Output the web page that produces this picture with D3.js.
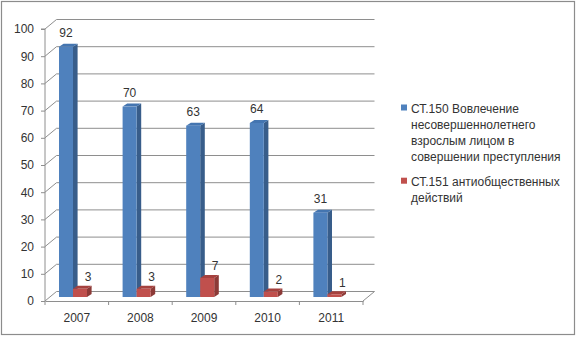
<!DOCTYPE html>
<html><head><meta charset="utf-8">
<script src="https://cdn.jsdelivr.net/npm/d3@7/dist/d3.min.js"></script>
<style>
html,body{margin:0;padding:0;background:#fff;}
svg{display:block;font-family:"Liberation Sans",Arial,sans-serif;}
</style></head>
<body>
<svg id="c" width="577" height="337"></svg>
<script>
const categories = ["2007","2008","2009","2010","2011"];
const seriesNames = ["СТ.150 Вовлечение несовершеннолетнего взрослым лицом в совершении преступления",
                     "СТ.151 антиобщественных действий"];
const series150 = [92, 70, 63, 64, 31];
const series151 = [3, 3, 7, 2, 1];
const yTicks = [0,10,20,30,40,50,60,70,80,90,100];
const legendLines = [
  ["СТ.150 Вовлечение","несовершеннолетнего","взрослым лицом в","совершении преступления"],
  ["СТ.151 антиобщественных","действий"]
];

const colors = [
  {front:"#4F81BD", side:"#385D8A", top:"#4475B0"},
  {front:"#C0504D", side:"#8C3A37", top:"#A5413E"}
];
const FS = "12px", TXT = "#333";

const svg = d3.select("#c");
svg.append("rect").attr("x",1.5).attr("y",1.5).attr("width",573).attr("height",333)
  .attr("fill","#fff").attr("stroke","#8c8c8c").attr("stroke-width",1.2);

const DX = 11.5, DY = 9.5;       // wall depth offset
const x0 = d3.scaleBand().domain(categories).range([45, 363]);
const x1 = d3.scaleBand().domain([0,1]).range([14, 42]);
const y = d3.scaleLinear().domain([0,100]).range([301, 29]);
const barBase = 4;               // bars sit at mid depth
const bdx = 4.6, bdy = 3;        // bar depth

const grid = "#8e8e8e";
yTicks.forEach(t => {
  svg.append("line").attr("x1",45+DX).attr("x2",363+DX)
    .attr("y1",y(t)-DY).attr("y2",y(t)-DY).attr("stroke",grid).attr("stroke-width",1);
  svg.append("line").attr("x1",45).attr("x2",45+DX)
    .attr("y1",y(t)).attr("y2",y(t)-DY).attr("stroke",grid).attr("stroke-width",1);
});
svg.append("line").attr("x1",363).attr("y1",y(0)).attr("x2",363+DX).attr("y2",y(0)-DY)
  .attr("stroke",grid);

const yAxis = d3.axisLeft(y).tickValues(yTicks).tickSize(4).tickPadding(7);
const gy = svg.append("g").attr("transform","translate(45,0)").call(yAxis);
gy.select(".domain").attr("stroke",grid).attr("d",`M-4,${y(100)}H0V${y(0)}`);
gy.selectAll(".tick line").attr("stroke",grid);
gy.selectAll(".tick text").attr("font-size",FS).attr("fill",TXT)
  .attr("font-family","'Liberation Sans',Arial,sans-serif");

const xAxis = d3.axisBottom(x0).tickSize(0).tickPadding(12);
const gx = svg.append("g").attr("transform",`translate(0,${y(0)})`).call(xAxis);
gx.select(".domain").attr("stroke",grid);
gx.selectAll(".tick text").attr("font-size",FS).attr("fill",TXT)
  .attr("font-family","'Liberation Sans',Arial,sans-serif");
const bounds = categories.map(c => x0(c)).concat([x0.range()[1]]);
bounds.forEach(b => {
  svg.append("line").attr("x1",b).attr("x2",b).attr("y1",y(0)).attr("y2",y(0)+4)
    .attr("stroke",grid);
});

const data = [series150, series151];
data.forEach((vals, si) => {
  const c = colors[si];
  vals.forEach((v, i) => {
    const xl = x0(categories[i]) + x1(si);
    const w = x1.bandwidth();
    const base = y(0) - barBase;
    const top = y(v) - barBase;
    const g = svg.append("g");
    g.append("polygon").attr("points",[[xl+w,top],[xl+w+bdx,top-bdy],[xl+w+bdx,base-bdy],[xl+w,base]].join(" "))
      .attr("fill",c.side);
    g.append("polygon").attr("points",[[xl,top],[xl+bdx,top-bdy],[xl+w+bdx,top-bdy],[xl+w,top]].join(" "))
      .attr("fill",c.top);
    g.append("rect").attr("x",xl).attr("y",top).attr("width",w).attr("height",base-top)
      .attr("fill",c.front);
    const lx = si === 0 ? xl + w/2 : xl + w/2 + 8;
    const ly = si === 0 ? top - 9.5 : top - 7.5;
    svg.append("text").attr("x",lx).attr("y",ly).attr("text-anchor","middle")
      .attr("font-size",FS).attr("fill",TXT).text(v);
  });
});

let ly = 112.5;
legendLines.forEach((lines, si) => {
  svg.append("rect").attr("x",401).attr("y",ly-8).attr("width",6).attr("height",6)
    .attr("fill",colors[si].front);
  lines.forEach((t, k) => {
    svg.append("text").attr("x",411).attr("y",ly + k*16.3).attr("font-size",FS)
      .attr("fill",TXT).text(t);
  });
  ly += (lines.length-1)*16.3 + 24.3;
});
</script>
</body></html>
